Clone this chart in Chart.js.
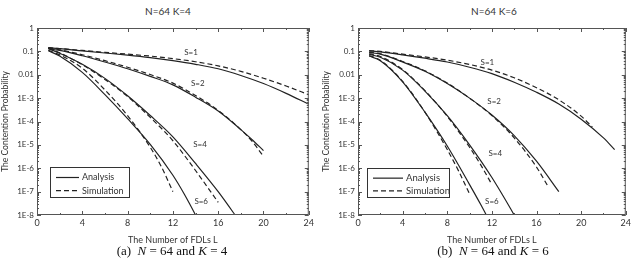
<!DOCTYPE html>
<html>
<head>
<meta charset="utf-8">
<script src="https://cdn.jsdelivr.net/npm/chart.js@4.4.1/dist/chart.umd.min.js"></script>
<style>
  body { margin: 0; background: #fff; width: 634px; height: 264px; position: relative; overflow: hidden; }
  .box { position: absolute; top: 0; height: 246px; }
  #boxK4 { left: 0; width: 317px; }
  #boxK6 { left: 321px; width: 313px; }
  .ttl { position: absolute; top: 5px; width: 200px; text-align: center; font: 10px Lato, sans-serif; color: #333; }
  .cap { position: absolute; top: 243px; width: 240px; text-align: center; font: 13px "Liberation Serif", serif; color: #111; z-index: 2; }
</style>
</head>
<body>
<div class="ttl" style="left:68px">N=64 K=4</div>
<div class="ttl" style="left:394px">N=64 K=6</div>
<div class="box" id="boxK4"><canvas id="chartK4" width="317" height="246"></canvas></div>
<div class="box" id="boxK6"><canvas id="chartK6" width="313" height="246"></canvas></div>
<div class="cap" style="left:52px">(a)&nbsp; <i>N</i> = 64 and <i>K</i> = 4</div>
<div class="cap" style="left:373px">(b)&nbsp; <i>N</i> = 64 and <i>K</i> = 6</div>
<script>
// y tick labels (decades) and x ticks
const yTicks = [1, 0.1, 0.01, 1e-3, 1e-4, 1e-5, 1e-6, 1e-7, 1e-8];
const xTicks = [0, 4, 8, 12, 16, 20, 24];

// ---- N=64 K=4 ----
const k4s1AnaL = [1, 2, 4, 6, 8, 10, 12, 14, 16, 18, 20, 22, 24];
const k4s1AnaP = [0.14, 0.13, 0.105, 0.085, 0.069, 0.054, 0.04, 0.028, 0.018, 0.0093, 0.0042, 0.0016, 5.5e-4];
const k4s1SimL = [1, 2, 4, 6, 8, 10, 12, 14, 16, 18, 20, 22, 24];
const k4s1SimP = [0.145, 0.132, 0.11, 0.091, 0.076, 0.063, 0.049, 0.036, 0.024, 0.014, 0.0071, 0.0033, 1.4e-3];

const k4s2AnaL = [1, 2, 4, 6, 8, 10, 12, 14, 16, 18, 19, 20];
const k4s2AnaP = [0.13, 0.11, 0.065, 0.035, 0.018, 0.0085, 0.0037, 1.1e-3, 2.8e-4, 4.5e-5, 1.66e-5, 5.7e-6];
const k4s2SimL = [1, 2, 4, 6, 8, 10, 12, 14, 16, 18, 19, 20];
const k4s2SimP = [0.138, 0.117, 0.072, 0.04, 0.021, 0.0102, 0.0044, 1.3e-3, 3.0e-4, 4.5e-5, 1.4e-5, 3.2e-6];

const k4s4AnaL = [1, 2, 4, 6, 8, 10, 12, 14, 16, 18];
const k4s4AnaP = [0.132, 0.083, 0.028, 7e-3, 1.26e-3, 1.8e-4, 2.2e-5, 1.6e-6, 1.0e-7, 4.5e-9];
const k4s4SimL = [1, 2, 4, 6, 8, 10, 12, 14, 16];
const k4s4SimP = [0.138, 0.087, 0.027, 6.3e-3, 1.17e-3, 1.5e-4, 1.5e-5, 8e-7, 3.5e-8];

const k4s6AnaL = [1, 2, 4, 6, 8, 10, 12, 13, 14, 15];
const k4s6AnaP = [0.107, 0.063, 0.0126, 1.41e-3, 1.32e-4, 1.05e-5, 5e-7, 7.9e-8, 1e-8, 1.1e-9];
const k4s6SimL = [1, 2, 4, 6, 8, 10, 11, 12];
const k4s6SimP = [0.112, 0.071, 0.019, 2.24e-3, 1.78e-4, 7.9e-6, 1.12e-6, 1e-7];

const k4LabelText = ["S=1", "S=2", "S=4", "S=6"];
const k4LabelL = [13.6, 14.2, 14.4, 14.5];
const k4LabelP = [0.089, 4.4e-3, 1e-5, 3.8e-8];

// ---- N=64 K=6 ----
const k6s1AnaL = [1, 2, 4, 6, 8, 10, 12, 14, 16, 18, 20, 22, 23];
const k6s1AnaP = [0.105, 0.095, 0.071, 0.051, 0.035, 0.021, 0.0112, 4.8e-3, 1.78e-3, 5.6e-4, 1.26e-4, 2e-5, 6.3e-6];
const k6s1SimL = [1, 2, 4, 6, 8, 10, 12, 14, 16, 18, 20, 21];
const k6s1SimP = [0.107, 0.1, 0.076, 0.058, 0.042, 0.0275, 0.0158, 7.4e-3, 2.8e-3, 8.5e-4, 1.7e-4, 5.8e-5];

const k6s2AnaL = [1, 2, 4, 6, 8, 10, 12, 14, 16, 18];
const k6s2AnaP = [0.089, 0.076, 0.035, 0.014, 4.2e-3, 1e-3, 1.9e-4, 2.5e-5, 2e-6, 1e-7];
const k6s2SimL = [1, 2, 4, 6, 8, 10, 12, 14, 16, 17];
const k6s2SimP = [0.093, 0.079, 0.037, 0.0148, 4.4e-3, 1e-3, 1.78e-4, 2e-5, 1.12e-6, 1.78e-7];

const k6s4AnaL = [1, 2, 4, 6, 8, 10, 12, 14, 15];
const k6s4AnaP = [0.074, 0.056, 0.0158, 2e-3, 1.78e-4, 1e-5, 4e-7, 1e-8, 1.4e-9];
const k6s4SimL = [1, 2, 4, 6, 8, 10, 11, 12];
const k6s4SimP = [0.079, 0.06, 0.0166, 2.1e-3, 1.66e-4, 7.9e-6, 1.4e-6, 2e-7];

const k6s6AnaL = [1, 2, 4, 6, 8, 10, 11, 12];
const k6s6AnaP = [0.063, 0.04, 5e-3, 2.5e-4, 8.9e-6, 2e-7, 2.8e-8, 3.5e-9];
const k6s6SimL = [1, 2, 4, 6, 8, 9, 10];
const k6s6SimP = [0.066, 0.042, 5.2e-3, 2.5e-4, 6.3e-6, 7.9e-7, 7.9e-8];

const k6LabelText = ["S=1", "S=2", "S=4", "S=6"];
const k6LabelL = [11.6, 12.2, 12.3, 12.0];
const k6LabelP = [0.034, 7e-4, 4.2e-6, 3.8e-8];

const INK = "#222";
const TXT = "#333";
const FONT = "Lato, sans-serif";

function series(xs, ys, dashed) {
  return {
    data: xs.map((x, i) => ({ x: x, y: ys[i] })),
    borderColor: INK,
    borderWidth: 1.2,
    borderDash: dashed ? [5, 3] : [],
    pointRadius: 0,
    fill: false,
    cubicInterpolationMode: "monotone",
  };
}

function fmtTick(v) {
  if (v >= 0.01) return String(v);
  return "1E" + Math.round(Math.log10(v));
}

// frame with inward ticks, inset legend and S=n labels
const framePlugin = {
  id: "frame",
  afterDatasetsDraw(chart, args, opts) {
    const { ctx, chartArea: a, scales } = chart;
    const x = scales.x, y = scales.y;
    ctx.save();
    ctx.strokeStyle = "#555";
    ctx.lineWidth = 1;
    ctx.setLineDash([]);
    ctx.strokeRect(a.left + 0.5, a.top + 0.5, a.width - 1, a.height - 1);
    ctx.beginPath();
    for (let v = 0; v <= 24; v += 2) {
      const px = Math.round(x.getPixelForValue(v)) + 0.5;
      const len = v % 4 === 0 ? 4 : 2;
      ctx.moveTo(px, a.bottom); ctx.lineTo(px, a.bottom - len);
      ctx.moveTo(px, a.top); ctx.lineTo(px, a.top + len);
    }
    for (let e = -8; e <= 0; e++) {
      for (let m = 1; m <= 9; m++) {
        const v = m * Math.pow(10, e);
        if (v > 1) break;
        const py = Math.round(y.getPixelForValue(v)) + 0.5;
        const len = m === 1 ? 4 : 2;
        ctx.moveTo(a.left, py); ctx.lineTo(a.left + len, py);
        ctx.moveTo(a.right, py); ctx.lineTo(a.right - len, py);
      }
    }
    ctx.stroke();

    // labels
    ctx.fillStyle = TXT;
    ctx.font = "8px " + FONT;
    ctx.textAlign = "center";
    ctx.textBaseline = "middle";
    opts.labelText.forEach((t, i) => {
      ctx.fillText(t, x.getPixelForValue(opts.labelL[i]), y.getPixelForValue(opts.labelP[i]));
    });

    // legend box
    const g = opts.legend;
    const lx = a.left + g.dx, ly = a.bottom - g.dy - g.h;
    ctx.fillStyle = "#fff";
    ctx.fillRect(lx, ly, g.w, g.h);
    ctx.strokeStyle = "#333";
    ctx.strokeRect(lx + 0.5, ly + 0.5, g.w, g.h);
    ctx.strokeStyle = INK;
    ctx.lineWidth = 1.2;
    const r1 = ly + g.h * 0.35, r2 = ly + g.h * 0.79;
    ctx.beginPath(); ctx.moveTo(lx + 6, r1); ctx.lineTo(lx + 6 + g.line, r1); ctx.stroke();
    ctx.setLineDash([5, 3]);
    ctx.beginPath(); ctx.moveTo(lx + 6, r2); ctx.lineTo(lx + 6 + g.line, r2); ctx.stroke();
    ctx.setLineDash([]);
    ctx.fillStyle = TXT;
    ctx.font = g.font + "px " + FONT;
    ctx.textAlign = "left";
    ctx.fillText("Analysis", lx + 9 + g.line, r1);
    ctx.fillText("Simulation", lx + 9 + g.line, r2);
    ctx.restore();
  },
};

function makeChart(id, datasets, labels, legend, padRight) {
  return new Chart(document.getElementById(id), {
    type: "line",
    data: { datasets: datasets },
    plugins: [framePlugin],
    options: {
      responsive: false,
      animation: false,
      devicePixelRatio: 1,
      layout: { padding: { top: 28, right: padRight, left: 0, bottom: 2 } },
      plugins: {
        legend: { display: false },
        tooltip: { enabled: false },
        frame: Object.assign({ legend: legend }, labels),
      },
      scales: {
        x: {
          type: "linear",
          min: 0,
          max: 24,
          afterBuildTicks: (s) => { s.ticks = xTicks.map((v) => ({ value: v })); },
          afterFit: (s) => { s.height = 29; },
          grid: { display: false, drawTicks: false },
          border: { display: false },
          ticks: { color: TXT, font: { family: FONT, size: 9 }, padding: 3, maxRotation: 0 },
          title: { display: true, text: "The Number of FDLs L", color: TXT, font: { family: FONT, size: 9 }, padding: { top: 0, bottom: -1 } },
        },
        y: {
          type: "logarithmic",
          min: 1e-8,
          max: 1,
          afterBuildTicks: (s) => { s.ticks = yTicks.map((v) => ({ value: v })); },
          afterFit: (s) => { s.width = 37; },
          grid: { display: false, drawTicks: false },
          border: { display: false },
          ticks: { color: TXT, font: { family: FONT, size: 8 }, padding: 3, autoSkip: false, callback: (v) => fmtTick(v) },
          title: { display: true, text: "The Contention Probability", color: TXT, font: { family: FONT, size: 8.5 }, padding: 0 },
        },
      },
    },
  });
}

makeChart("chartK4", [
  series(k4s1AnaL, k4s1AnaP, false), series(k4s1SimL, k4s1SimP, true),
  series(k4s2AnaL, k4s2AnaP, false), series(k4s2SimL, k4s2SimP, true),
  series(k4s4AnaL, k4s4AnaP, false), series(k4s4SimL, k4s4SimP, true),
  series(k4s6AnaL, k4s6AnaP, false), series(k4s6SimL, k4s6SimP, true),
], { labelText: k4LabelText, labelL: k4LabelL, labelP: k4LabelP },
  { dx: 13, dy: 18, w: 79, h: 30, line: 23, font: 9 }, 7);

makeChart("chartK6", [
  series(k6s1AnaL, k6s1AnaP, false), series(k6s1SimL, k6s1SimP, true),
  series(k6s2AnaL, k6s2AnaP, false), series(k6s2SimL, k6s2SimP, true),
  series(k6s4AnaL, k6s4AnaP, false), series(k6s4SimL, k6s4SimP, true),
  series(k6s6AnaL, k6s6AnaP, false), series(k6s6SimL, k6s6SimP, true),
], { labelText: k6LabelText, labelL: k6LabelL, labelP: k6LabelP },
  { dx: 9, dy: 18, w: 82, h: 29, line: 30, font: 9.5 }, 4);
</script>
</body>
</html>
